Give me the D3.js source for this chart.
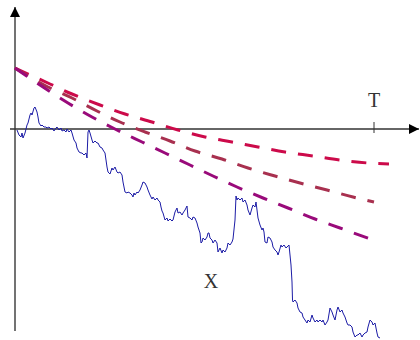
<!DOCTYPE html>
<meta charset="utf-8">
<head>
  <title>walk-bounds</title>
</head>
<style>
  body { margin: 0; background: #fff; }
  .lbl { font-family: "Liberation Serif", serif; font-size: 20px; fill: #333; }
</style>
<body>
  <svg width="420" height="340"></svg>

  <script src="https://cdnjs.cloudflare.com/ajax/libs/d3/7.8.5/d3.min.js"></script>
  <script>
    // time runs in steps, T is the horizon
    var T = 359;
    var tMax = 405;
    var vMin = -2.02, vMax = 1.17;

    // sampled path [t, value]
    var walk = [
      [2, -0.01], [4, -0.06], [6, -0.08], [7, -0.04], [8, -0.09], [10, -0.04], [12, 0.04], [13, 0.06],
      [15, 0.14], [16, 0.16], [17, 0.14], [19, 0.21], [20, 0.22], [22, 0.17], [23, 0.12], [24, 0.06],
      [26, 0.03], [27, 0.04], [29, 0.02], [31, 0.02], [32, 0.01], [34, 0.02], [36, 0.00], [37, 0.01],
      [39, -0.02], [41, 0.01], [42, 0.02], [44, -0.01], [46, 0.01], [47, -0.02], [49, -0.01], [51, -0.03],
      [52, 0.00], [54, -0.03], [56, -0.01], [57, -0.04], [59, -0.11], [61, -0.14], [62, -0.19], [64, -0.23],
      [66, -0.24], [67, -0.24], [69, -0.26], [71, -0.24], [72, -0.29], [73, -0.03], [74, -0.01], [75, -0.04],
      [77, -0.11], [78, -0.14], [80, -0.12], [82, -0.14], [83, -0.14], [85, -0.18], [87, -0.19], [88, -0.21],
      [90, -0.24], [91, -0.31], [92, -0.38], [93, -0.43], [95, -0.45], [97, -0.39], [98, -0.41], [100, -0.38],
      [102, -0.43], [103, -0.44], [105, -0.43], [107, -0.46], [108, -0.53], [109, -0.58], [110, -0.63], [112, -0.64],
      [113, -0.63], [115, -0.64], [117, -0.66], [118, -0.68], [119, -0.64], [120, -0.66], [122, -0.63], [123, -0.64],
      [125, -0.61], [127, -0.56], [128, -0.53], [130, -0.54], [132, -0.58], [133, -0.61], [135, -0.66], [137, -0.70],
      [138, -0.68], [140, -0.71], [142, -0.69], [143, -0.71], [145, -0.73], [146, -0.78], [147, -0.82], [148, -0.84],
      [150, -0.91], [152, -0.89], [153, -0.92], [155, -0.90], [157, -0.92], [158, -0.91], [160, -0.83], [162, -0.79],
      [163, -0.84], [165, -0.83], [167, -0.86], [168, -0.84], [170, -0.81], [172, -0.77], [173, -0.88], [175, -0.89],
      [177, -0.91], [178, -0.88], [180, -0.89], [182, -0.94], [183, -0.98], [185, -1.04], [186, -1.14], [187, -1.13],
      [188, -1.09], [190, -1.11], [192, -1.08], [193, -1.04], [194, -1.04], [195, -1.09], [197, -1.11], [198, -1.14],
      [200, -1.11], [202, -1.14], [203, -1.23], [205, -1.19], [207, -1.24], [208, -1.21], [210, -1.23], [212, -1.19],
      [213, -1.14], [215, -1.16], [217, -1.13], [218, -1.10], [220, -0.91], [221, -0.67], [222, -0.71], [223, -0.69],
      [225, -0.71], [227, -0.69], [228, -0.73], [230, -0.71], [232, -0.76], [233, -0.81], [235, -0.86], [237, -0.79],
      [238, -0.76], [240, -0.78], [241, -0.73], [242, -0.81], [243, -0.89], [245, -0.96], [247, -1.01], [248, -0.99],
      [249, -1.03], [250, -1.13], [252, -1.14], [253, -1.08], [255, -1.09], [257, -1.13], [258, -1.18], [260, -1.21],
      [262, -1.23], [263, -1.26], [264, -1.23], [266, -1.16], [267, -1.18], [269, -1.16], [271, -1.19], [272, -1.18],
      [274, -1.16], [275, -1.26], [276, -1.36], [277, -1.53], [277.5, -1.71], [278, -1.73], [280, -1.71], [282, -1.74],
      [283, -1.79], [285, -1.83], [287, -1.84], [288, -1.88], [290, -1.91], [292, -1.94], [293, -1.91], [295, -1.93],
      [297, -1.86], [298, -1.89], [300, -1.93], [302, -1.91], [303, -1.93], [305, -1.91], [307, -1.93], [308, -1.91],
      [310, -1.96], [312, -1.93], [313, -1.91], [315, -1.79], [317, -1.83], [318, -1.86], [320, -1.91], [322, -1.81],
      [323, -1.78], [325, -1.83], [327, -1.81], [328, -1.84], [330, -1.88], [332, -1.94], [333, -1.96], [335, -1.96],
      [337, -1.98], [338, -2.03], [340, -2.08], [342, -2.06], [343, -2.06], [345, -2.04], [347, -2.08], [348, -2.06],
      [350, -2.04], [352, -2.03], [353, -1.98], [355, -1.91], [357, -1.93], [358, -1.96], [360, -1.94], [362, -2.04],
      [363, -2.08], [365, -2.09]
    ];

    // the three dashed curves
    var upper = [[0, 0.61], [35, 0.45], [57, 0.35], [85, 0.24], [110, 0.15], [137, 0.07], [163, -0.01], [190, -0.08],
      [217, -0.13], [243, -0.18], [270, -0.23], [298, -0.27], [325, -0.31], [353, -0.34], [374, -0.35]];
    var middle = [[0, 0.61], [33, 0.42], [57, 0.31], [82, 0.18], [105, 0.07], [130, -0.03], [155, -0.12], [180, -0.22],
      [207, -0.30], [233, -0.39], [260, -0.47], [285, -0.54], [312, -0.61], [338, -0.68], [359, -0.73]];
    var lower = [[0, 0.61], [28, 0.42], [53, 0.26], [77, 0.12], [100, 0.00], [127, -0.13], [150, -0.24], [175, -0.36],
      [198, -0.47], [222, -0.58], [248, -0.69], [273, -0.79], [300, -0.90], [325, -0.99], [358, -1.11]];

    var curves = [upper, middle, lower];
    var curveColors = ['#cc0a4a', '#a8304f', '#990a7a'];

    var x = d3.scaleLinear().domain([0, tMax]).range([15, 420]);
    var y = d3.scaleLinear().domain([vMin, vMax]).range([331, 12]);

    var svg = d3.select('svg');

    var defs = svg.append('defs');
    defs.append('marker')
      .attr('id', 'arrow')
      .attr('viewBox', '0 0 10 10')
      .attr('refX', 10).attr('refY', 5)
      .attr('markerWidth', 10).attr('markerHeight', 10)
      .attr('markerUnits', 'userSpaceOnUse')
      .attr('orient', 'auto')
      .append('path')
      .attr('d', 'M0,0 L10,5 L0,10 Z')
      .attr('fill', '#000');

    // axes
    svg.append('line')
      .attr('x1', x(0)).attr('y1', y(vMin))
      .attr('x2', x(0)).attr('y2', y(vMax) - 5)
      .attr('stroke', '#444').attr('stroke-width', 1.5)
      .attr('marker-end', 'url(#arrow)');

    svg.append('line')
      .attr('x1', x(0) - 5).attr('y1', y(0))
      .attr('x2', x(tMax) - 1).attr('y2', y(0))
      .attr('stroke', '#333').attr('stroke-width', 1.5)
      .attr('marker-end', 'url(#arrow)');

    svg.append('line')
      .attr('x1', x(T)).attr('x2', x(T))
      .attr('y1', y(0) - 7).attr('y2', y(0) + 4)
      .attr('stroke', '#333').attr('stroke-width', 1);

    svg.append('text').attr('class', 'lbl')
      .attr('x', x(T)).attr('y', y(0) - 22)
      .attr('text-anchor', 'middle')
      .text('T');

    var line = d3.line()
      .x(function(d) { return x(d[0]); })
      .y(function(d) { return y(d[1]); });

    var smooth = d3.line()
      .x(function(d) { return x(d[0]); })
      .y(function(d) { return y(d[1]); })
      .curve(d3.curveMonotoneX);

    svg.append('path')
      .datum(walk)
      .attr('d', line)
      .attr('fill', 'none')
      .attr('stroke', '#1c1ca6')
      .attr('stroke-width', 1);

    svg.selectAll('.bound')
      .data(curves)
      .enter()
      .append('path')
      .attr('class', 'bound')
      .attr('d', smooth)
      .attr('fill', 'none')
      .attr('stroke', function(d, i) { return curveColors[i]; })
      .attr('stroke-width', 3)
      .attr('stroke-dasharray', '15,12');

    svg.append('text').attr('class', 'lbl')
      .attr('x', 211).attr('y', 288)
      .attr('text-anchor', 'middle')
      .text('X');
  </script>
</body>
</html>
